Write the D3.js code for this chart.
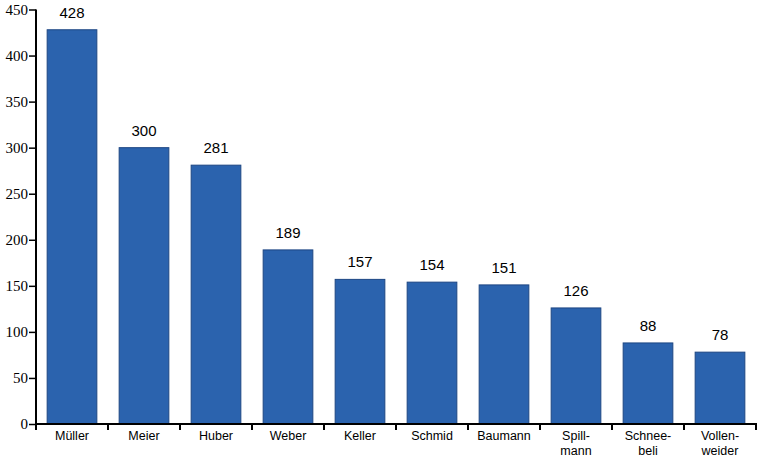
<!doctype html>
<html lang="de">
<head>
<meta charset="UTF-8">
<title>Nachnamen</title>
<style>
  body { margin: 0; background: #fff; }
</style>
</head>
<body>
<div class="chart"></div>
<script src="https://d3js.org/d3.v7.min.js"></script>
<script>
  const names = [['Müller'], ['Meier'], ['Huber'], ['Weber'], ['Keller'], ['Schmid'], ['Baumann'],
    ['Spill-', 'mann'], ['Schnee-', 'beli'], ['Vollen-', 'weider']]
  const counts = [428, 300, 281, 189, 157, 154, 151, 126, 88, 78]
  const yTicks = [0, 50, 100, 150, 200, 250, 300, 350, 400, 450]

  const width = 760
  const height = 457
  const plotLeft = 36
  const plotRight = 756
  const plotTop = 9.5
  const plotBottom = 424
  const sans = '"Liberation Sans", Arial, sans-serif'
  const serif = '"Liberation Serif", "Times New Roman", serif'

  const svg = d3.select('.chart')
    .append('svg')
    .attr('width', width)
    .attr('height', height)

  const x = d3.scaleBand().domain(d3.range(names.length)).range([plotLeft, plotRight])
  const y = d3.scaleLinear().domain([0, 450]).range([plotBottom, plotTop])
  const barW = x.bandwidth() * 0.69

  svg.selectAll('.bar')
    .data(counts)
    .enter()
    .append('rect')
    .attr('class', 'bar')
    .attr('x', (d, i) => x(i) + (x.bandwidth() - barW) / 2)
    .attr('y', d => y(d))
    .attr('width', barW)
    .attr('height', d => y(0) - y(d))
    .style('fill', '#2b63ae')
    .style('stroke', '#1d4683')
    .style('stroke-width', 1)

  svg.selectAll('.value')
    .data(counts)
    .enter()
    .append('text')
    .attr('class', 'value')
    .attr('x', (d, i) => x(i) + x.bandwidth() / 2)
    .attr('y', d => y(d) - 12)
    .attr('text-anchor', 'middle')
    .attr('font-family', sans)
    .attr('font-size', 15)
    .text(d => d)

  // y axis
  const yAxis = d3.axisLeft(y).tickValues(yTicks).tickSize(7).tickPadding(1)
  const gy = svg.append('g')
    .attr('class', 'y-axis')
    .attr('transform', `translate(${plotLeft}, 0)`)
    .call(yAxis)
  gy.select('.domain').attr('d', `M0,${plotTop}V${plotBottom}`).style('stroke-width', 2)
  gy.selectAll('.tick line').style('stroke-width', 1.5)
  gy.selectAll('.tick text')
    .attr('fill', '#000')
    .attr('font-family', serif)
    .attr('font-size', 15)

  // x axis with ticks on category boundaries
  const gx = svg.append('g').attr('class', 'x-axis')
  gx.append('line')
    .attr('x1', plotLeft - 1).attr('x2', plotRight + 1)
    .attr('y1', plotBottom).attr('y2', plotBottom)
    .style('stroke', '#000').style('stroke-width', 2)
  gx.selectAll('.xtick')
    .data(d3.range(names.length + 1))
    .enter()
    .append('line')
    .attr('x1', i => plotLeft + i * x.step())
    .attr('x2', i => plotLeft + i * x.step())
    .attr('y1', plotBottom)
    .attr('y2', plotBottom + 6)
    .style('stroke', '#000').style('stroke-width', 2)

  const labels = gx.selectAll('.x-label')
    .data(names)
    .enter()
    .append('text')
    .attr('class', 'x-label')
    .attr('text-anchor', 'middle')
    .attr('font-family', sans)
    .attr('font-size', 12.5)
    .attr('x', (d, i) => x(i) + x.bandwidth() / 2)
    .attr('y', plotBottom + 16)
  labels.selectAll('tspan')
    .data(d => d)
    .enter()
    .append('tspan')
    .attr('x', function () { return this.parentNode.getAttribute('x') })
    .attr('dy', (d, i) => i === 0 ? 0 : 15)
    .text(d => d)
</script>
</body>
</html>
